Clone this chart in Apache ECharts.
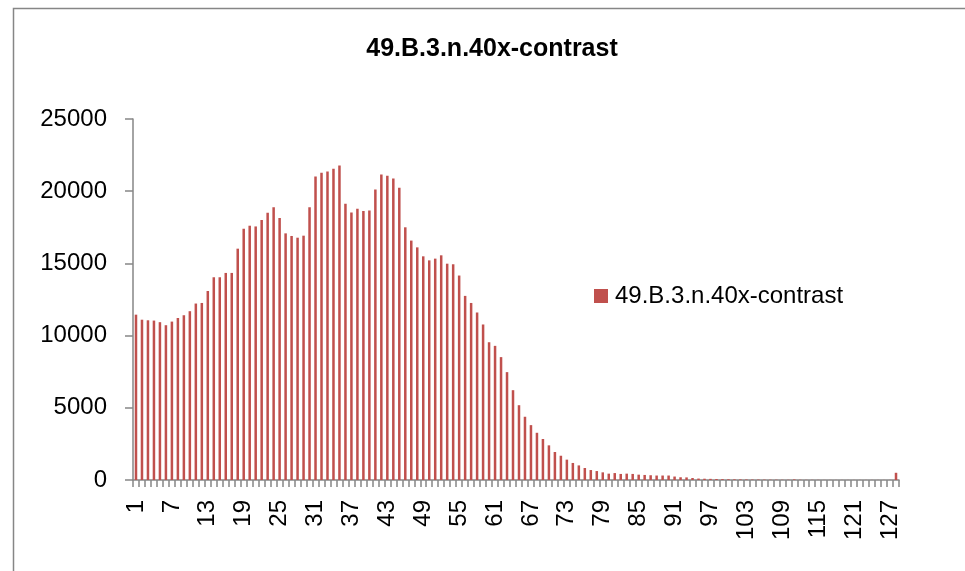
<!DOCTYPE html>
<html>
<head>
<meta charset="utf-8">
<style>
  html, body { margin: 0; padding: 0; background: #fff; }
  #chart { width: 965px; height: 571px; }
</style>
<script src="https://cdn.jsdelivr.net/npm/echarts@6/dist/echarts.min.js"></script>
</head>
<body>
<div id="chart"></div>
<script>
var title = "49.B.3.n.40x-contrast";
var seriesName = "49.B.3.n.40x-contrast";

// 128 histogram bins, labels 1..128
var categories = [];
for (var i = 1; i <= 128; i++) categories.push(String(i));

// values
var values = [
  11450, 11100, 11060, 11040, 10930, 10720, 10970, 11220, 11410, 11690,
  12220, 12260, 13090, 14040, 14040, 14340, 14340, 16020, 17400, 17610,
  17560, 18010, 18510, 18880, 18140, 17080, 16900, 16780, 16920, 18880,
  21020, 21280, 21370, 21550, 21780, 19130, 18530, 18790, 18630, 18670,
  20120, 21160, 21070, 20880, 20240, 17500, 16580, 16110, 15490, 15210,
  15330, 15560, 14980, 14940, 14160, 12750, 12260, 11600, 10770, 9540,
  9290, 8510, 7470, 6220, 5180, 4380, 3800, 3270, 2840, 2400,
  1940, 1680, 1410, 1180, 1010, 830, 690, 620, 530, 440,
  480, 420, 440, 420, 370, 350, 330, 310, 310, 310,
  240, 190, 180, 140, 100, 90, 80, 70, 60, 50,
  45, 40, 35, 30, 30, 25, 20, 20, 15, 15,
  40, 15, 10, 10, 10, 5, 5, 5, 5, 5,
  5, 5, 5, 5, 5, 5, 5, 500
];

var yTicks = { min: 0, max: 25000, interval: 5000 };

var font = "'Liberation Sans', Arial, sans-serif";
var axisGray = "#868686";

var myChart = echarts.init(document.getElementById("chart"));
var option = {
  animation: false,
  backgroundColor: "#fff",
  textStyle: { fontFamily: font },
  title: {
    text: title,
    left: 492,
    top: 37,
    padding: 0,
    textAlign: "center",
    textStyle: { fontFamily: font, fontSize: 25, fontWeight: "bold", color: "#000" }
  },
  // outer chart frame (cut off at right / bottom)
  graphic: [{
    type: "rect",
    shape: { x: 13.5, y: 8.5, width: 1000, height: 1000 },
    style: { fill: null, stroke: axisGray, lineWidth: 1.5 },
    silent: true
  }],
  legend: {
    left: 589,
    top: 279,
    itemWidth: 14,
    itemHeight: 14,
    icon: "rect",
    data: [seriesName],
    textStyle: { fontFamily: font, fontSize: 24, color: "#000", padding: [0, 0, 0, 2] }
  },
  grid: { left: 133, right: 66, top: 119, bottom: 91 },
  xAxis: {
    type: "category",
    data: categories,
    axisLine: { lineStyle: { color: axisGray, width: 1.5 } },
    axisTick: { show: true, interval: 0, length: 7, lineStyle: { color: axisGray, width: 1.5 } },
    axisLabel: {
      interval: 5,
      rotate: 90,
      margin: 20,
      fontSize: 24,
      fontFamily: font,
      color: "#000"
    },
    splitLine: { show: false }
  },
  yAxis: {
    type: "value",
    min: yTicks.min,
    max: yTicks.max,
    interval: yTicks.interval,
    axisLine: { show: true, lineStyle: { color: axisGray, width: 1.5 } },
    axisTick: { show: true, length: 8, lineStyle: { color: axisGray, width: 1.5 } },
    axisLabel: {
      margin: 26,
      fontSize: 24,
      fontFamily: font,
      color: "#000",
      formatter: function (v) { return String(v); }
    },
    splitLine: { show: false }
  },
  series: [{
    name: seriesName,
    type: "bar",
    data: values,
    barWidth: "42%",
    itemStyle: { color: "#C0504D" }
  }]
};
myChart.setOption(option);
</script>
</body>
</html>
